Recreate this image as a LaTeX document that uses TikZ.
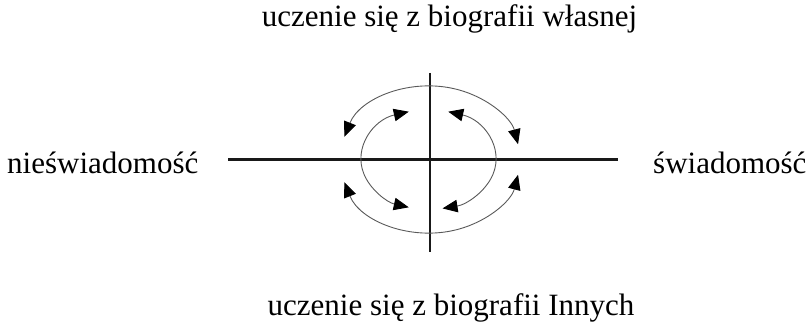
\documentclass[tikz,border=0pt]{standalone}
\usepackage{fontspec}
\setmainfont{Liberation Serif}
\usetikzlibrary{arrows.meta}
\begin{document}
\begin{tikzpicture}[x=1pt,y=1pt,
  lbl/.style={inner sep=0pt, font=\fontsize{31}{37}\selectfont},
  axisline/.style={line width=2.6pt, draw=black!90},
  cyc/.style={line width=0.9pt, draw=black!65,
    {Triangle[length=15pt,width=12.5pt,color=black]}-{Triangle[length=15pt,width=12.5pt,color=black]}}]
\useasboundingbox (0,0) rectangle (810,327);
% labels
\node[lbl, anchor=base] (top) at (449.5,300) {uczenie się z biografii własnej};
\node[lbl, anchor=base] (bot) at (451,12) {uczenie się z biografii Innych};
\node[lbl, anchor=base west] (left) at (7,154) {nieświadomość};
\node[lbl, anchor=base west] (right) at (653,154) {świadomość};
% axes
\coordinate (c) at (430,167.5);
\coordinate (ci) at (428.5,167.5);
\coordinate (L) at (228,167.5);
\coordinate (R) at (618,167.5);
\coordinate (T) at (430,254);
\coordinate (B) at (430,75);
\draw[axisline] (L) -- (R);
\draw[axisline] (T) -- (B);
% outer arcs
\draw[cyc] ([shift={(162:90pt and 73.5pt)}]c) arc[start angle=162, end angle=12, x radius=90pt, y radius=73.5pt];
\draw[cyc] ([shift={(198:90pt and 73.5pt)}]c) arc[start angle=198, end angle=348, x radius=90pt, y radius=73.5pt];
% inner arcs
\draw[cyc] ([shift={(107:67.5pt and 50pt)}]ci) arc[start angle=107, end angle=253, x radius=67.5pt, y radius=50pt];
\draw[cyc] ([shift={(73:67.5pt and 50pt)}]ci) arc[start angle=73, end angle=-78, x radius=67.5pt, y radius=50pt];
\end{tikzpicture}
\end{document}
